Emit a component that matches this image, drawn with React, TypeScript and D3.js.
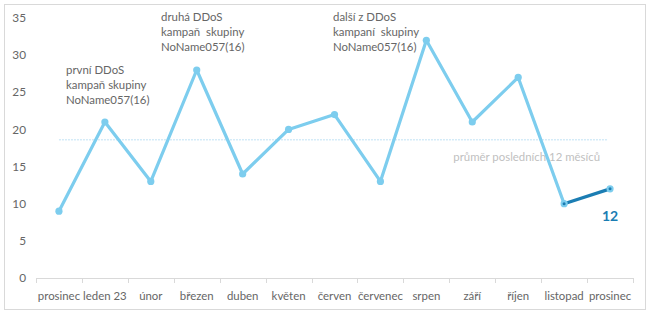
import React from "react";
import * as d3 from "d3";

const categories = ["prosinec", "leden 23", "únor", "březen", "duben", "květen", "červen", "červenec", "srpen", "září", "říjen", "listopad", "prosinec"];
const values = [9, 21, 13, 28, 14, 20, 22, 13, 32, 21, 27, 10, 12];
const yTicks = [0, 5, 10, 15, 20, 25, 30, 35];
const averageValue = 18.6;
const averageLabel = "průměr posledních 12 měsíců";
const annotations = [
  ["první DDoS", "kampaň skupiny", "NoName057(16)"],
  ["druhá DDoS", "kampaň  skupiny", "NoName057(16)"],
  ["další z DDoS", "kampaní  skupiny", "NoName057(16)"],
];
const lastLabel = "12";

const W = 650, H = 315;
const FONT = "Lato, 'Noto Sans', sans-serif";
const FS = 11.4;

export default function App() {
  const x = d3.scaleBand<number>().domain(d3.range(categories.length)).range([36, 633]);
  const y = d3.scaleLinear().domain([0, 35]).range([278, 18]);
  const cx = (i: number) => (x(i) as number) + x.bandwidth() / 2;
  const line = d3.line<number>().x((_, i) => cx(i)).y((d) => y(d));
  const n = values.length;
  const mainVals = values.slice(0, n - 1);
  const lastPath = d3.line<number>().x((_, i) => cx(n - 2 + i)).y((d) => y(d))(values.slice(n - 2)) as string;
  const light = "#7dcdee";
  const dark = "#1b7db3";
  const textCol = "#666666";
  const annPos = [[66, 70], [161, 17], [333, 17]];

  return (
    <svg width={W} height={H} style={{ position: "absolute", left: 0, top: 0 }} fontFamily={FONT}>
      <rect x={4.5} y={4.5} width={641} height={305} fill="#fff" stroke="#d9d9d9" />
      {yTicks.map((t) => (
        <text key={t} x={26} y={y(t)} dy="0.35em" textAnchor="end" fontSize={FS + 0.4} fill={textCol}>{t}</text>
      ))}
      <line x1={36} x2={633} y1={278.5} y2={278.5} stroke="#d9d9d9" />
      {d3.range(n + 1).map((i) => {
        const xx = Math.round(36 + i * x.step()) + 0.5;
        return <line key={i} x1={xx} x2={xx} y1={278} y2={283} stroke="#d9d9d9" />;
      })}
      {categories.map((c, i) => (
        <text key={i} x={cx(i)} y={296} dy="0.35em" textAnchor="middle" fontSize={FS} fill={textCol}>{c}</text>
      ))}
      <line x1={cx(0)} x2={608} y1={y(averageValue)} y2={y(averageValue)} stroke="#bfe1f4" strokeWidth={1} strokeDasharray="2,1" />
      <text x={600} y={157} dy="0.35em" textAnchor="end" fontSize={FS} fill="#bfbfbf">{averageLabel}</text>
      <path d={line(mainVals) as string} fill="none" stroke={light} strokeWidth={3.2} strokeLinejoin="round" />
      <path d={lastPath} fill="none" stroke={dark} strokeWidth={3.2} strokeLinejoin="round" />
      {values.map((v, i) => (
        <circle key={i} cx={cx(i)} cy={y(v)} r={3.6} fill={light} />
      ))}
      <circle cx={cx(n - 2)} cy={y(values[n - 2])} r={1.5} fill={dark} />
      <circle cx={cx(n - 1)} cy={y(values[n - 1])} r={1.5} fill={dark} />
      <text x={cx(n - 1)} y={216} dy="0.35em" textAnchor="middle" fontSize={14} fontWeight="bold" fill={dark}>{lastLabel}</text>
      {annotations.map((lines, k) => (
        <text key={k} fontSize={FS} fill={textCol}>
          {lines.map((l, j) => (
            <tspan key={j} x={annPos[k][0]} y={annPos[k][1] + j * 15} dy="0.35em" style={{ whiteSpace: "pre" }}>{l}</tspan>
          ))}
        </text>
      ))}
    </svg>
  );
}
